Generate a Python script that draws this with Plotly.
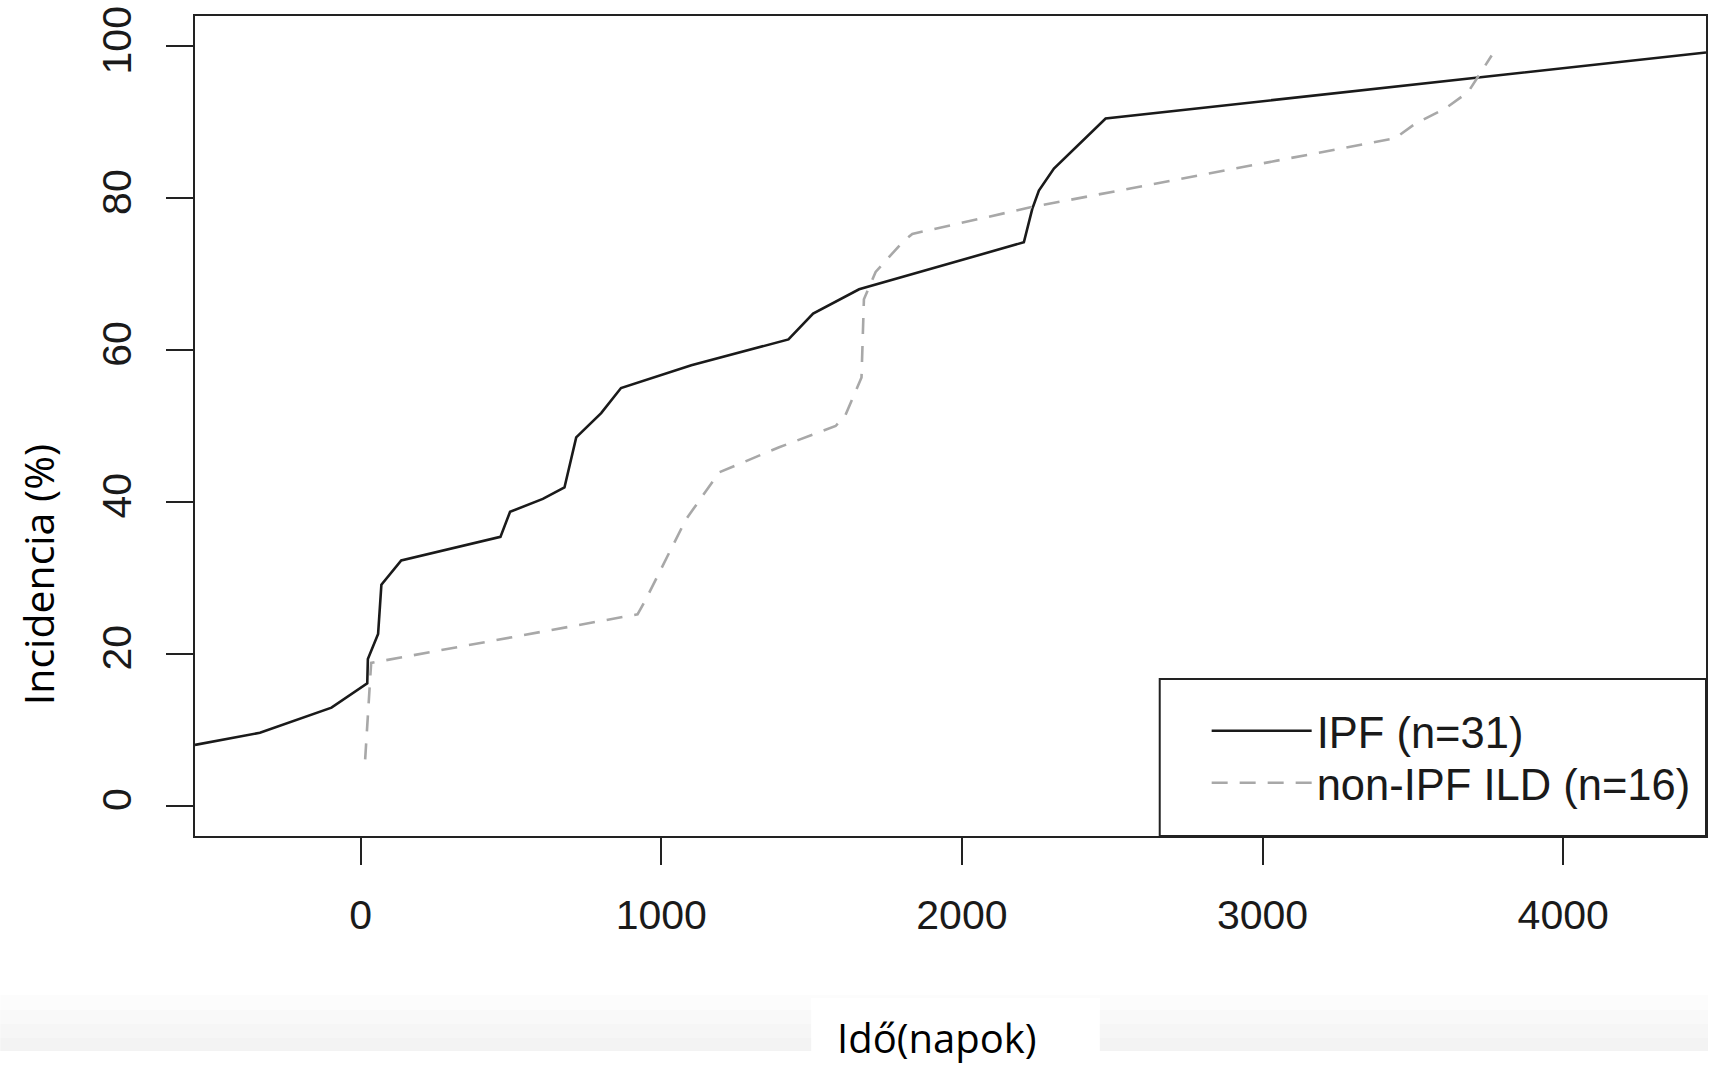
import plotly.graph_objects as go

# ---- data ----
ipf_days = [-551, -335, -97, 22, 24, 58, 69, 135, 465, 497, 606, 678, 717, 800, 866,
            1100, 1423, 1505, 1658, 2206, 2234, 2256, 2306, 2478, 4475]
ipf_incidence = [8.0, 9.6, 12.9, 16.1, 19.3, 22.6, 29.1, 32.3, 35.4, 38.7, 40.4, 41.9, 48.5, 51.7, 55.0,
                 58.0, 61.4, 64.8, 68.0, 74.2, 78.6, 81.0, 83.9, 90.5, 99.2]

nonipf_days = [15, 35, 921, 949, 1082, 1193, 1392, 1580, 1612, 1666, 1674, 1713, 1802, 1835,
               2228, 3441, 3507, 3607, 3684, 3762]
nonipf_incidence = [6.1, 18.8, 25.2, 27.2, 37.7, 43.9, 47.2, 50.0, 51.4, 56.4, 66.7, 70.3, 74.2, 75.3,
                    78.8, 87.9, 89.8, 91.8, 94.0, 98.8]

series_names = ["IPF (n=31)", "non-IPF ILD (n=16)"]
x_ticks = [0, 1000, 2000, 3000, 4000]
y_ticks = [0, 20, 40, 60, 80, 100]
x_title = "Idő(napok)"
y_title = "Incidencia (%)"

W, H = 1710, 1066
ML, MR, MT, MB = 195, 2, 16, 230
PW, PH = W - ML - MR, H - MT - MB


def px(xp):
    return (xp - ML) / PW


def py(yp):
    return (H - MB - yp) / PH


fig = go.Figure()
fig.add_trace(go.Scatter(x=ipf_days, y=ipf_incidence, mode="lines", name=series_names[0],
                         legend="legend",
                         line=dict(color="#1a1a1a", width=2.6)))
fig.add_trace(go.Scatter(x=nonipf_days, y=nonipf_incidence, mode="lines", name=series_names[1],
                         legend="legend2",
                         line=dict(color="#a8a8a8", width=2.6, dash="16px,12px")))

tick_font = dict(family="Liberation Sans, Arial, sans-serif", size=41, color="#1a1a1a")

fig.update_xaxes(range=[-551, 4475], tickvals=x_ticks, ticktext=[str(v) for v in x_ticks],
                 showgrid=False, zeroline=False, showline=True, mirror=True,
                 linecolor="#222", linewidth=2, ticks="outside", ticklen=27, tickwidth=2,
                 tickcolor="#222", tickfont=tick_font, ticklabelstandoff=15)
fig.update_yaxes(range=[-4, 104], tickvals=y_ticks, ticktext=[str(v) for v in y_ticks],
                 showgrid=False, zeroline=False, showline=True, mirror=True,
                 linecolor="#222", linewidth=2, ticks="outside", ticklen=27, tickwidth=2,
                 tickcolor="#222", tickfont=tick_font, tickangle=-90, ticklabelstandoff=19)

shapes = []
# light gray gradient band at the bottom
band = [(995, 1010, "#fcfcfc"), (1010, 1024, "#f9f9f9"), (1024, 1038, "#f6f6f6"), (1038, 1051, "#f3f3f3")]
for y0, y1, c in band:
    shapes.append(dict(type="rect", xref="paper", yref="paper", x0=px(0), x1=px(W),
                       y0=py(y1), y1=py(y0), fillcolor=c, line=dict(width=0), layer="below"))
# white box behind the x title
shapes.append(dict(type="rect", xref="paper", yref="paper", x0=px(812), x1=px(1101),
                   y0=py(1066), y1=py(998), fillcolor="white", line=dict(width=0), layer="below"))
# legend frame
shapes.append(dict(type="rect", xref="paper", yref="paper", x0=px(1161), x1=1.0,
                   y0=0.0, y1=py(679), fillcolor="white", line=dict(color="#222", width=2),
                   layer="above"))

annotations = [
    dict(text=y_title, xref="paper", yref="paper", x=px(38), y=py(575), showarrow=False,
         textangle=-90, xanchor="center", yanchor="middle",
         font=dict(family="Open Sans, Noto Sans, sans-serif", size=41, color="black")),
    dict(text=x_title, xref="paper", yref="paper", x=px(938), y=py(1037), showarrow=False,
         xanchor="center", yanchor="middle", borderpad=0,
         font=dict(family="Open Sans, Noto Sans, sans-serif", size=40, color="black")),
]

legend_font = dict(family="Liberation Sans, Arial, sans-serif", size=43.5, color="#1a1a1a")
fig.update_layout(
    width=W, height=H,
    margin=dict(l=ML, r=MR, t=MT, b=MB),
    paper_bgcolor="white", plot_bgcolor="white",
    shapes=shapes, annotations=annotations,
    legend=dict(x=px(1208), y=py(696), xanchor="left", yanchor="top",
                bgcolor="rgba(0,0,0,0)", borderwidth=0, itemwidth=100, font=legend_font),
    legend2=dict(x=px(1208), y=py(748), xanchor="left", yanchor="top",
                 bgcolor="rgba(0,0,0,0)", borderwidth=0, itemwidth=100, font=legend_font),
    showlegend=True,
)

fig.write_html(
    "out.html",
    config={"displayModeBar": False},
    post_script=("document.documentElement.style.margin='0';document.body.style.margin='0';"
                 "document.body.style.padding='0';document.documentElement.style.overflow='hidden';"
                 "document.body.style.overflow='hidden';"),
)
